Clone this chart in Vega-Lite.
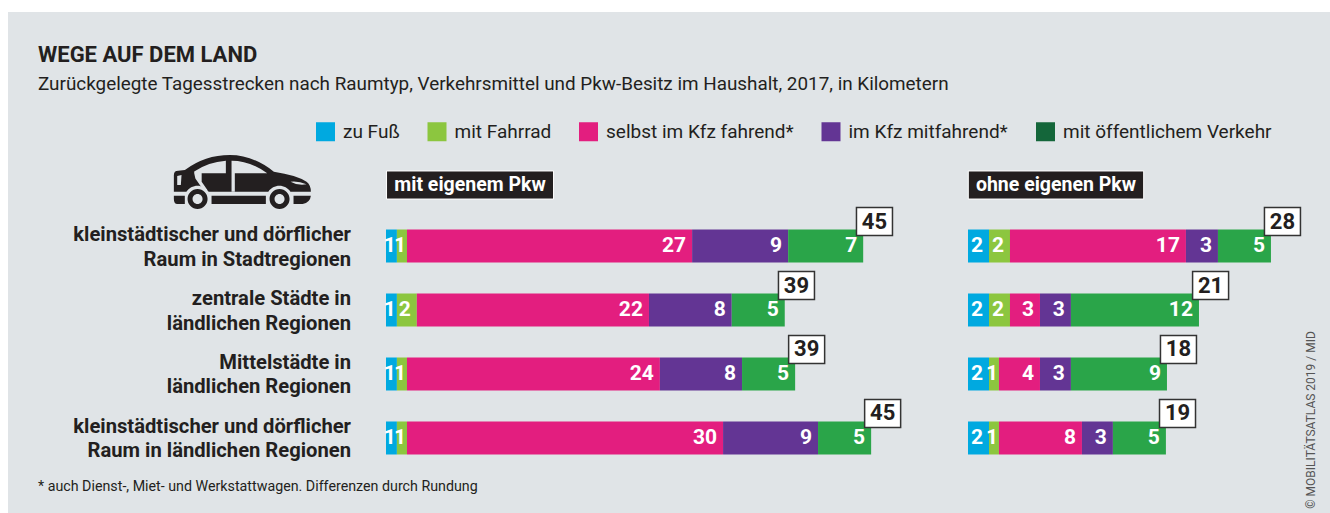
{
"$schema":"https://vega.github.io/schema/vega-lite/v6.json",
"background":"#ffffff",
"padding":{"left":8,"top":12,"right":0,"bottom":0},
"spacing":0,
"config":{"font":"Roboto","view":{"stroke":null,"fill":"#e0e4e7"},"concat":{"spacing":0}},
"resolve":{"scale":{"color":"shared"},"legend":{"color":"shared"}},
"datasets":{
"links":[
{"raum":"A","art":"zu Fuß","nr":1,"km":1.03,"label":"1"},{"raum":"A","art":"mit Fahrrad","nr":2,"km":0.95,"label":"1"},{"raum":"A","art":"selbst im Kfz fahrend*","nr":3,"km":26.9,"label":"27"},{"raum":"A","art":"im Kfz mitfahrend*","nr":4,"km":9.06,"label":"9"},{"raum":"A","art":"mit öffentlichem Verkehr","nr":5,"km":7.08,"label":"7"},
{"raum":"B","art":"zu Fuß","nr":1,"km":1.03,"label":"1"},{"raum":"B","art":"mit Fahrrad","nr":2,"km":1.88,"label":"2"},{"raum":"B","art":"selbst im Kfz fahrend*","nr":3,"km":21.9,"label":"22"},{"raum":"B","art":"im Kfz mitfahrend*","nr":4,"km":7.81,"label":"8"},{"raum":"B","art":"mit öffentlichem Verkehr","nr":5,"km":5.0,"label":"5"},
{"raum":"C","art":"zu Fuß","nr":1,"km":1.03,"label":"1"},{"raum":"C","art":"mit Fahrrad","nr":2,"km":0.95,"label":"1"},{"raum":"C","art":"selbst im Kfz fahrend*","nr":3,"km":23.86,"label":"24"},{"raum":"C","art":"im Kfz mitfahrend*","nr":4,"km":7.75,"label":"8"},{"raum":"C","art":"mit öffentlichem Verkehr","nr":5,"km":5.01,"label":"5"},
{"raum":"D","art":"zu Fuß","nr":1,"km":1.03,"label":"1"},{"raum":"D","art":"mit Fahrrad","nr":2,"km":0.95,"label":"1"},{"raum":"D","art":"selbst im Kfz fahrend*","nr":3,"km":29.82,"label":"30"},{"raum":"D","art":"im Kfz mitfahrend*","nr":4,"km":8.96,"label":"9"},{"raum":"D","art":"mit öffentlichem Verkehr","nr":5,"km":5.01,"label":"5"}
],
"rechts":[
{"raum":"A","art":"zu Fuß","nr":1,"km":1.98,"label":"2"},{"raum":"A","art":"mit Fahrrad","nr":2,"km":1.98,"label":"2"},{"raum":"A","art":"selbst im Kfz fahrend*","nr":3,"km":16.6,"label":"17"},{"raum":"A","art":"im Kfz mitfahrend*","nr":4,"km":3.02,"label":"3"},{"raum":"A","art":"mit öffentlichem Verkehr","nr":5,"km":5.0,"label":"5"},
{"raum":"B","art":"zu Fuß","nr":1,"km":1.98,"label":"2"},{"raum":"B","art":"mit Fahrrad","nr":2,"km":1.98,"label":"2"},{"raum":"B","art":"selbst im Kfz fahrend*","nr":3,"km":2.83,"label":"3"},{"raum":"B","art":"im Kfz mitfahrend*","nr":4,"km":2.92,"label":"3"},{"raum":"B","art":"mit öffentlichem Verkehr","nr":5,"km":12.08,"label":"12"},
{"raum":"C","art":"zu Fuß","nr":1,"km":1.98,"label":"2"},{"raum":"C","art":"mit Fahrrad","nr":2,"km":0.94,"label":"1"},{"raum":"C","art":"selbst im Kfz fahrend*","nr":3,"km":3.87,"label":"4"},{"raum":"C","art":"im Kfz mitfahrend*","nr":4,"km":2.92,"label":"3"},{"raum":"C","art":"mit öffentlichem Verkehr","nr":5,"km":9.06,"label":"9"},
{"raum":"D","art":"zu Fuß","nr":1,"km":1.98,"label":"2"},{"raum":"D","art":"mit Fahrrad","nr":2,"km":0.94,"label":"1"},{"raum":"D","art":"selbst im Kfz fahrend*","nr":3,"km":7.83,"label":"8"},{"raum":"D","art":"im Kfz mitfahrend*","nr":4,"km":2.92,"label":"3"},{"raum":"D","art":"mit öffentlichem Verkehr","nr":5,"km":5.0,"label":"5"}
],
"linksSumme":[{"raum":"A","km":45.0,"label":"45"},{"raum":"B","km":37.64,"label":"39"},{"raum":"C","km":38.6,"label":"39"},{"raum":"D","km":45.77,"label":"45"}],
"rechtsSumme":[{"raum":"A","km":28.58,"label":"28"},{"raum":"B","km":21.8,"label":"21"},{"raum":"C","km":18.77,"label":"18"},{"raum":"D","km":18.68,"label":"19"}],
"raeume":[{"raum":"A","name":"kleinstädtischer und dörflicher|Raum in Stadtregionen"},{"raum":"B","name":"zentrale Städte in|ländlichen Regionen"},{"raum":"C","name":"Mittelstädte in|ländlichen Regionen"},{"raum":"D","name":"kleinstädtischer und dörflicher|Raum in ländlichen Regionen"}]
},
"data":{"values":[]},
"hconcat":[
{"width":942,"height":501,
"title":{"text":"WEGE AUF DEM LAND","subtitle":"Zurückgelegte Tagesstrecken nach Raumtyp, Verkehrsmittel und Pkw-Besitz im Haushalt, 2017, in Kilometern","anchor":"start","frame":"group","offset":-83,"dx":30,"fontSize":22,"fontWeight":700,"font":"Roboto","color":"#231f20","subtitleFont":"Roboto","subtitleFontSize":18.88,"subtitleColor":"#231f20","subtitlePadding":8,"limit":1200},
"layer":[
{"data":{"name":"links"},"mark":{"type":"bar","height":33},
"encoding":{"y":{"field":"raum","type":"nominal","scale":{"domain":["Kopf","A","B","C","D","Fuss"],"range":[153.5,506.5],"paddingInner":0.484,"paddingOuter":0},"axis":null},
"x":{"field":"km","type":"quantitative","stack":"zero","scale":{"domain":[-35.66,53.21],"nice":false,"zero":false},"axis":null},
"color":{"condition":{"test":"datum.nr === 5","value":"#2aa549"},"field":"art","type":"nominal","scale":{"domain":["zu Fuß","mit Fahrrad","selbst im Kfz fahrend*","im Kfz mitfahrend*","mit öffentlichem Verkehr"],"range":["#00a9e0","#8cc63f","#e31e7f","#633594","#14663a"]},
"legend":{"title":null,"orient":"none","legendX":308,"legendY":110,"direction":"horizontal","columns":5,"gridAlign":"each","columnPadding":27.5,"symbolType":"square","symbolSize":361,"symbolStrokeWidth":0,"labelFont":"Roboto","labelFontSize":19,"labelColor":"#231f20","labelOffset":8,"labelLimit":400}},
"order":{"field":"nr","type":"quantitative"}}},
{"data":{"name":"links"},"mark":{"type":"text","align":"right","baseline":"middle","fontWeight":700,"fontSize":21,"color":"#ffffff","dx":{"expr":"datum.label === '1' ? -1 : -6"}},
"encoding":{"y":{"field":"raum","type":"nominal","axis":null},
"x":{"field":"km","type":"quantitative","stack":"zero","axis":null},
"detail":{"field":"art"},"order":{"field":"nr","type":"quantitative"},
"text":{"field":"label","type":"nominal"}}},
{"data":{"name":"linksSumme"},"mark":{"type":"point","filled":true,"fill":"#ffffff","stroke":"#333333","strokeWidth":1.5,"opacity":1,"size":1296,"xOffset":11.5,"yOffset":-24.5,"shape":"M-1,-0.78L1,-0.78L1,0.78L-1,0.78Z"},
"encoding":{"y":{"field":"raum","type":"nominal","axis":null},"x":{"field":"km","type":"quantitative","axis":null}}},
{"data":{"name":"linksSumme"},"mark":{"type":"text","align":"center","baseline":"middle","fontWeight":700,"fontSize":22,"color":"#231f20","xOffset":11.5,"yOffset":-24.5},
"encoding":{"y":{"field":"raum","type":"nominal","axis":null},"x":{"field":"km","type":"quantitative","axis":null},"text":{"field":"label","type":"nominal"}}},
{"data":{"name":"raeume"},"mark":{"type":"text","align":"right","baseline":"middle","lineBreak":"|","lineHeight":24.5,"fontWeight":700,"fontSize":20.2,"color":"#231f20","yOffset":-11},
"encoding":{"y":{"field":"raum","type":"nominal","axis":null},"x":{"datum":-3.3,"axis":null},"text":{"field":"name","type":"nominal"}}},
{"data":{"values":[{"kopf":"mit eigenem Pkw"}]},"mark":{"type":"point","filled":true,"fill":"#231f20","stroke":"#ffffff","strokeWidth":1,"opacity":1,"size":27889,"yOffset":3,"shape":"M-1,-0.168L1,-0.168L1,0.168L-1,0.168Z"},
"encoding":{"y":{"datum":"Kopf","type":"nominal","axis":null},"x":{"datum":7.93,"axis":null}}},
{"data":{"values":[{"kopf":"mit eigenem Pkw"}]},"mark":{"type":"text","align":"center","baseline":"middle","fontWeight":700,"fontSize":19.5,"color":"#ffffff","yOffset":3},
"encoding":{"y":{"datum":"Kopf","type":"nominal","axis":null},"x":{"datum":7.93,"axis":null},"text":{"field":"kopf","type":"nominal"}}},
{"data":{"values":[{"fuss":"* auch Dienst-, Miet- und Werkstattwagen. Differenzen durch Rundung"}]},"mark":{"type":"text","align":"left","baseline":"middle","fontSize":14.25,"color":"#231f20","yOffset":-15},
"encoding":{"y":{"datum":"Fuss","type":"nominal","axis":null},"x":{"datum":-32.83,"axis":null},"text":{"field":"fuss","type":"nominal"}}},
{"data":{"values":[{"symbol":"Pkw"}]},"mark":{"type":"point","filled":true,"fill":"#231f20","stroke":null,"opacity":1,"size":18769,"yOffset":0.5,"shape":"M-1,0.134L-1,-0.109Q-1,-0.173 -0.937,-0.173L-0.839,-0.182Q-0.547,-0.401 -0.182,-0.401Q0.158,-0.401 0.46,-0.158Q0.79,-0.109 0.937,-0.012Q1,0.036 1,0.134L0.702,0.134A0.195,0.195 0 0 0 0.379,0.134L-0.492,0.134A0.195,0.195 0 0 0 -0.817,0.134ZM-1,0.192L-0.84,0.192L-0.84,0.314L-0.95,0.314Q-1,0.314 -1,0.24ZM-0.45,0.192L0.343,0.192L0.343,0.314L-0.45,0.314ZM0.747,0.192L1,0.192Q0.99,0.29 0.88,0.314L0.747,0.314ZM-0.8,0.241A0.146,0.146 0 1 0 -0.508,0.241A0.146,0.146 0 1 0 -0.8,0.241ZM0.397,0.241A0.146,0.146 0 1 0 0.689,0.241A0.146,0.146 0 1 0 0.397,0.241Z"},
"encoding":{"y":{"datum":"Kopf","type":"nominal","axis":null},"x":{"datum":-13.55,"axis":null}}},
{"data":{"values":[{"symbol":"Pkw-Fenster"}]},"mark":{"type":"point","filled":true,"fill":"#e0e4e7","stroke":null,"opacity":1,"size":18769,"yOffset":0.5,"shape":"M-0.703,-0.134L-0.241,-0.134L-0.241,-0.318Q-0.5,-0.3 -0.703,-0.16ZM-0.703,-0.134L-0.594,-0.134L-0.594,-0.012L-0.511,0.109L-0.57,0.109L-0.686,-0.06ZM-0.158,-0.319Q0.11,-0.319 0.363,-0.134L-0.158,-0.134ZM-0.158,-0.134L-0.11,-0.134L-0.11,0.134L-0.158,0.134ZM0.703,-0.012Q0.815,-0.027 0.937,0.027Q0.815,0.051 0.703,-0.012ZM-0.951,-0.095L-0.888,-0.109L-0.898,0.036L-0.951,0.036ZM-0.727,0.241A0.073,0.073 0 1 0 -0.581,0.241A0.073,0.073 0 1 0 -0.727,0.241ZM0.47,0.241A0.073,0.073 0 1 0 0.616,0.241A0.073,0.073 0 1 0 0.47,0.241Z"},
"encoding":{"y":{"datum":"Kopf","type":"nominal","axis":null},"x":{"datum":-13.55,"axis":null}}}
]},
{"width":380,"height":501,
"layer":[
{"data":{"name":"rechts"},"mark":{"type":"bar","height":33},
"encoding":{"y":{"field":"raum","type":"nominal","scale":{"domain":["Kopf","A","B","C","D","Fuss"],"range":[153.5,506.5],"paddingInner":0.484,"paddingOuter":0},"axis":null},
"x":{"field":"km","type":"quantitative","stack":"zero","scale":{"domain":[-1.698,34.15],"nice":false,"zero":false},"axis":null},
"color":{"condition":{"test":"datum.nr === 5","value":"#2aa549"},"field":"art","type":"nominal"},
"order":{"field":"nr","type":"quantitative"}}},
{"data":{"name":"rechts"},"mark":{"type":"text","align":"right","baseline":"middle","fontWeight":700,"fontSize":21,"color":"#ffffff","dx":{"expr":"datum.label === '1' ? -1 : -6"}},
"encoding":{"y":{"field":"raum","type":"nominal","axis":null},
"x":{"field":"km","type":"quantitative","stack":"zero","axis":null},
"detail":{"field":"art"},"order":{"field":"nr","type":"quantitative"},
"text":{"field":"label","type":"nominal"}}},
{"data":{"name":"rechtsSumme"},"mark":{"type":"point","filled":true,"fill":"#ffffff","stroke":"#333333","strokeWidth":1.5,"opacity":1,"size":1296,"xOffset":11.5,"yOffset":-24.5,"shape":"M-1,-0.78L1,-0.78L1,0.78L-1,0.78Z"},
"encoding":{"y":{"field":"raum","type":"nominal","axis":null},"x":{"field":"km","type":"quantitative","axis":null}}},
{"data":{"name":"rechtsSumme"},"mark":{"type":"text","align":"center","baseline":"middle","fontWeight":700,"fontSize":22,"color":"#231f20","xOffset":11.5,"yOffset":-24.5},
"encoding":{"y":{"field":"raum","type":"nominal","axis":null},"x":{"field":"km","type":"quantitative","axis":null},"text":{"field":"label","type":"nominal"}}},
{"data":{"values":[{"kopf":"ohne eigenen Pkw"}]},"mark":{"type":"point","filled":true,"fill":"#231f20","stroke":"#ffffff","strokeWidth":1,"opacity":1,"size":30765,"yOffset":3,"shape":"M-1,-0.16L1,-0.16L1,0.16L-1,0.16Z"},
"encoding":{"y":{"datum":"Kopf","type":"nominal","axis":null},"x":{"datum":8.3,"axis":null}}},
{"data":{"values":[{"kopf":"ohne eigenen Pkw"}]},"mark":{"type":"text","align":"center","baseline":"middle","fontWeight":700,"fontSize":19.5,"color":"#ffffff","yOffset":3},
"encoding":{"y":{"datum":"Kopf","type":"nominal","axis":null},"x":{"datum":8.3,"axis":null},"text":{"field":"kopf","type":"nominal"}}},
{"data":{"values":[{"quelle":"© MOBILITÄTSATLAS 2019 / MID"}]},"mark":{"type":"text","align":"center","baseline":"middle","angle":270,"fontSize":12,"color":"#555555","yOffset":-18},
"encoding":{"y":{"datum":"D","type":"nominal","axis":null},"x":{"datum":32.36,"axis":null},"text":{"field":"quelle","type":"nominal"}}}
]}
]
}
